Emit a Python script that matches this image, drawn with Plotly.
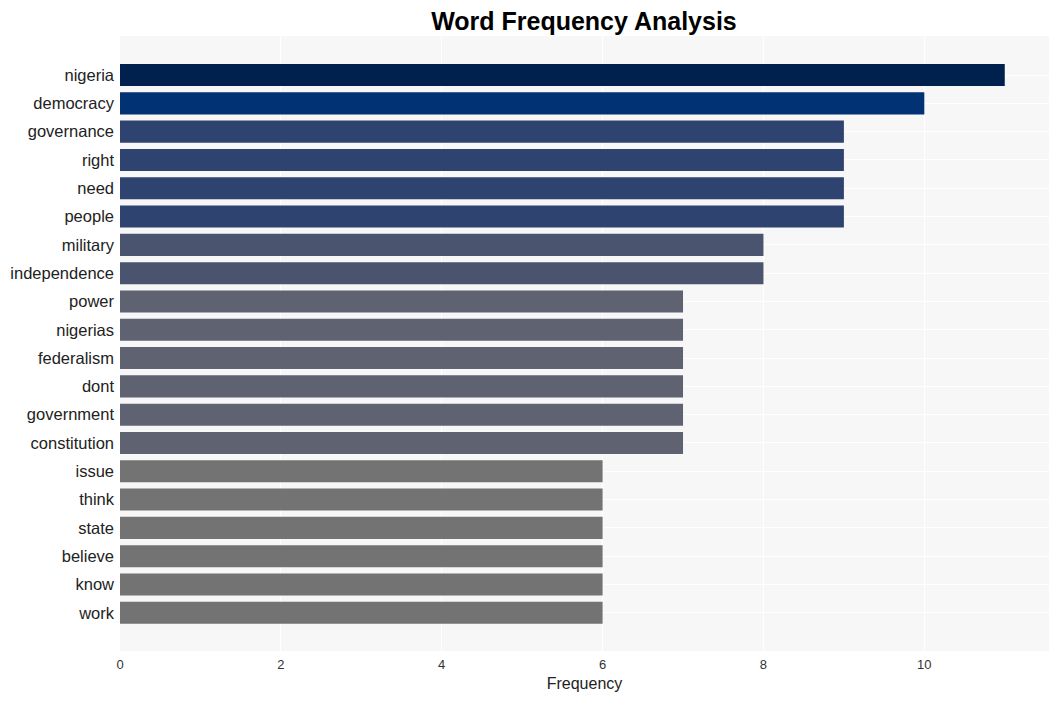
import plotly.graph_objects as go

words = ["nigeria", "democracy", "governance", "right", "need", "people", "military",
         "independence", "power", "nigerias", "federalism", "dont", "government",
         "constitution", "issue", "think", "state", "believe", "know", "work"]
counts = [11, 10, 9, 9, 9, 9, 8, 8, 7, 7, 7, 7, 7, 7, 6, 6, 6, 6, 6, 6]
colors = ["#00214e", "#003274", "#2f4370", "#2f4370", "#2f4370", "#2f4370",
          "#4a546f", "#4a546f", "#5f6270", "#5f6270", "#5f6270", "#5f6270",
          "#5f6270", "#5f6270", "#737373", "#737373", "#737373", "#737373",
          "#737373", "#737373"]

fig = go.Figure(go.Bar(
    x=counts, y=words, orientation="h",
    marker=dict(color=colors, line=dict(width=0)),
    width=0.78,
))

FONT = "Liberation Sans, Arial"
fig.update_layout(
    width=1051, height=693,
    margin=dict(l=112, r=10, t=28, b=50, autoexpand=False),
    paper_bgcolor="white",
    plot_bgcolor="#f7f7f7",
    title=dict(text="<b>Word Frequency Analysis</b>", x=0.548, xanchor="center",
               y=0.9815, yanchor="middle",
               font=dict(family=FONT, size=25, color="black")),
    font=dict(family=FONT, color="#222"),
    showlegend=False,
)
fig.update_xaxes(
    range=[0, 11.55], dtick=2, showgrid=True, gridcolor="white", gridwidth=1,
    zeroline=False, tickfont=dict(size=13, color="#333"),
    title=dict(text="Frequency", font=dict(size=16, color="#222"), standoff=6),
    ticks="", ticklen=0, ticklabelstandoff=4, automargin=False,
)
fig.update_yaxes(
    categoryorder="array", categoryarray=words[::-1],
    range=[-1.35, 20.38],
    showgrid=True, gridcolor="white", gridwidth=1,
    tickfont=dict(size=16.5, color="#222"), ticks="", ticklen=0,
    ticklabelstandoff=5, automargin=False,
)
fig.write_html("out.html")
